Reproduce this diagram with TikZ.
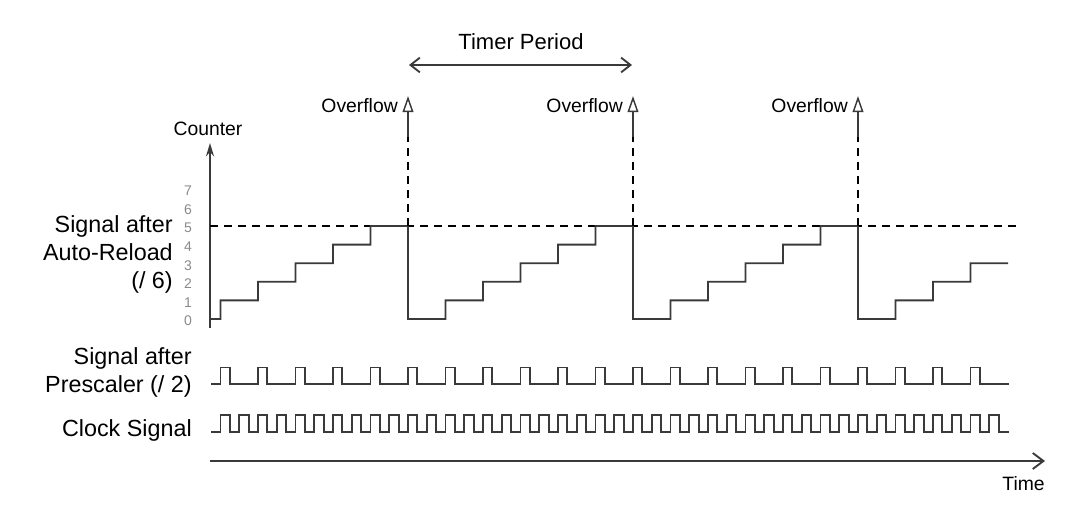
\documentclass[tikz,border=0pt]{standalone}
\usepackage{fontspec}
\setmainfont{Liberation Sans}
\usetikzlibrary{arrows.meta}

\definecolor{trace}{HTML}{3A3A3A}
\definecolor{tickgray}{HTML}{8A8A8A}

\tikzset{
  signal/.style={draw=trace, line width=1.4pt, line join=miter},
  axisline/.style={draw=trace, line width=1.4pt},
  reset/.style={draw=black, line width=1.1pt, dash pattern=on 6pt off 4.5pt},
  label/.style={font=\fontsize{17.5}{21}\selectfont, inner sep=0pt, align=right},
  small/.style={font=\fontsize{14.5}{16}\selectfont, inner sep=0pt},
  tick/.style={font=\fontsize{10.5}{11}\selectfont, text=tickgray, inner sep=0pt}
}

\begin{document}
\begin{tikzpicture}[x=0.75pt, y=-0.75pt]

\useasboundingbox (0,0) rectangle (1065,507);

% Axes
\coordinate (c0) at (210,328);
\coordinate (c1) at (210,143);
\draw[axisline, -{Stealth[length=10pt, width=6pt]}] (c0) -- (c1);
\node[small, anchor=south] (counter) at (208,136) {Counter};

\coordinate (t0) at (210,461);
\coordinate (t1) at (1045,461);
\draw[axisline, -{Straight Barb[length=8pt, width=12pt]}] (t0) -- (t1);
\node[small, anchor=east] (time) at (1045,484) {Time};

% Counter values
\foreach \v in {0,...,7}
  \node[tick] (v\v) at (188,{321-18.6*\v}) {\v};

% Labels
\node[label, anchor=east] (reload) at (173,254)
  {Signal after\\Auto-Reload\\(/ 6)};
\node[label, anchor=east] (presc) at (192,372)
  {Signal after\\Prescaler (/ 2)};
\node[label, anchor=east] (clock) at (192,430) {Clock Signal};

% Reload level
\coordinate (r0) at (210,226);
\coordinate (r1) at (1017,226);
\draw[reset] (r0) -- (r1);

% Counter staircase
\draw[signal] (210,319)
  foreach \p in {0,1,2} {
    foreach \k in {1,...,5} {
      -- ({183+225*\p+37.5*\k},{319-18.6*(\k-1)}) -- ++(0,-18.6)
    }
    -- ({408+225*\p},226) -- ++(0,93)
  }
  foreach \k in {1,2,3} {
    -- ({858+37.5*\k},{319-18.6*(\k-1)}) -- ++(0,-18.6)
  }
  -- (1008,263.2);

% Prescaler output
\draw[signal] (211,384)
  foreach \k in {0,...,20} {
    -- ({220.5+37.5*\k},384) -- ++(0,-16.5) -- ++(9.4,0) -- ++(0,16.5)
  }
  -- (1009,384);

% Clock
\draw[signal] (211,432)
  foreach \k in {0,...,41} {
    -- ({220.5+18.75*\k},432) -- ++(0,-17) -- ++(9.4,0) -- ++(0,17)
  }
  -- (1009,432);

% Overflows
\foreach \x [count=\i] in {408,633,858} {
  \coordinate (ovb\i) at (\x,226);
  \coordinate (ovm\i) at (\x,137);
  \coordinate (ovt\i) at (\x,96);
  \draw[reset] (ovb\i) -- (ovm\i);
  \draw[axisline, -{Triangle[open, length=12pt, width=8pt, line width=1.1pt]}] (ovm\i) -- (ovt\i);
  \node[small, anchor=east] (ov\i) at ({\x-10},106) {Overflow};
}

% Timer period
\coordinate (tp0) at (409,65);
\coordinate (tp1) at (632,65);
\draw[axisline, {Straight Barb[length=7pt, width=11pt]}-{Straight Barb[length=7pt, width=11pt]}] (tp0) -- (tp1);
\node[font=\fontsize{16.5}{18}\selectfont, inner sep=0pt] (period) at (521,42) {Timer Period};

\end{tikzpicture}
\end{document}
